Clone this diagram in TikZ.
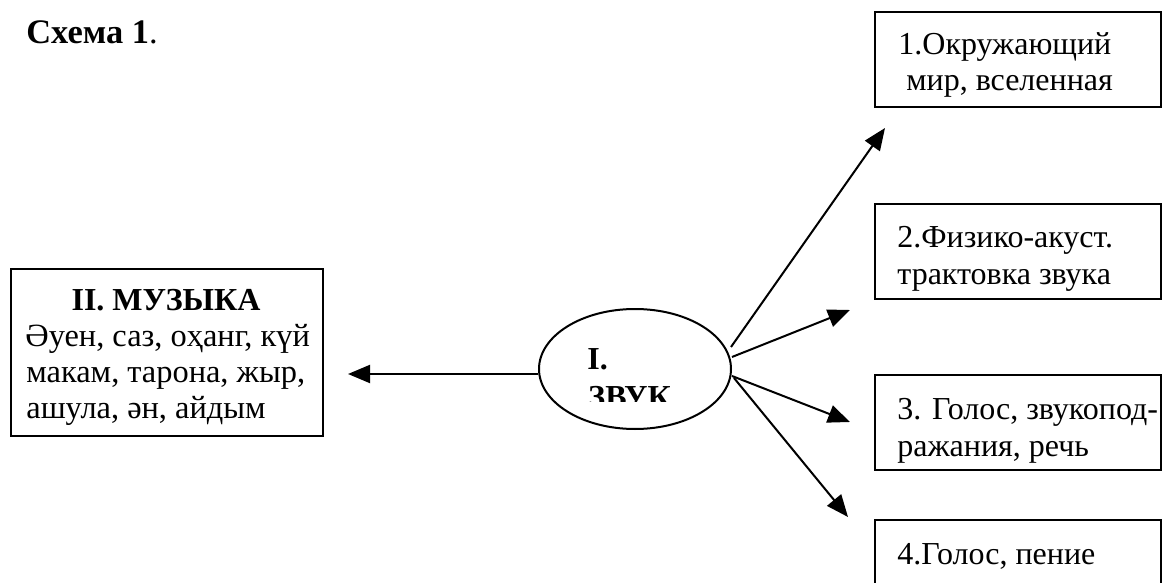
\documentclass[tikz,border=0pt]{standalone}
\usepackage{fontspec}
\setmainfont{Liberation Serif}
\usetikzlibrary{arrows.meta,shapes.geometric}
\begin{document}
\begin{tikzpicture}[x=0.5pt,y=-0.5pt,
  box/.style={draw, line width=1pt, rectangle, inner sep=0pt, minimum width=143pt, minimum height=47.5pt},
  txt/.style={inner sep=0pt, anchor=base west, font=\fontsize{16}{18}\selectfont},
  ltxt/.style={inner sep=0pt, anchor=base west, font=\fontsize{16.2}{18}\selectfont},
  btxt/.style={inner sep=0pt, anchor=base west, font=\fontsize{16}{18}\selectfont\bfseries},
  arr/.style={line width=1pt, -{Triangle[length=11pt,width=9pt]}}]
\useasboundingbox (0,0) rectangle (1163,583);
\clip (0,0) rectangle (1163,583);
\fill[white] (0,0) rectangle (1163,583);
% title
\node[btxt, font=\fontsize{17.2}{20}\selectfont\bfseries] (title) at (26,44) {Схема 1\textmd{.}};
% left box
\node[draw, line width=1pt, inner sep=0pt, minimum width=156pt, minimum height=83.5pt] (mus) at (167,352.5) {};
\node[btxt, anchor=base] (m1) at (166,310) {II. МУЗЫКА};
\node[ltxt] (m2) at (25,346) {Әуен, саз, оҳанг, күй};
\node[ltxt] (m3) at (26,382) {макам, тарона, жыр,};
\node[ltxt] (m4) at (26,418) {ашула, ән, айдым};
% ellipse
\node[draw, ellipse, line width=1pt, inner sep=0pt, minimum width=96pt, minimum height=60pt] (zv) at (635,369) {};
\node[btxt] (z1) at (587,369) {I.};
\begin{scope}
\clip (500,300) rectangle (760,401);
\node[btxt] (z2) at (588,407) {ЗВУК};
\end{scope}
% right boxes
\node[box] (b1) at (1018,59.5) {};
\node[txt] (b1a) at (898,55) {1.Окружающий};
\node[txt] (b1b) at (898,91) {\ мир, вселенная};
\node[box] (b2) at (1018,251.5) {};
\node[txt] (b2a) at (897,248) {2.Физико-акуст.};
\node[txt] (b2b) at (897,285) {трактовка звука};
\node[box] (b3) at (1018,422.5) {};
\node[txt] (b3a) at (897,419) {3. Голос, звукопод-};
\node[txt] (b3b) at (897,456) {ражания, речь};
\node[box] (b4) at (1018,567.5) {};
\node[txt] (b4a) at (897,564) {4.Голос, пение};
% connectors
\coordinate (m0) at (348,374);
\draw[arr] (zv.west |- m0) -- (m0);
\coordinate (s1) at (731,347);
\coordinate (s2) at (732,357);
\coordinate (s3) at (732,376);
\coordinate (s4) at (734,378);
\coordinate (t1) at (885,128);
\coordinate (t2) at (850,310);
\coordinate (t3) at (850,422);
\coordinate (t4) at (848,517);
\draw[arr] (s1) -- (t1);
\draw[arr] (s2) -- (t2);
\draw[arr] (s3) -- (t3);
\draw[arr] (s4) -- (t4);
\end{tikzpicture}
\end{document}
